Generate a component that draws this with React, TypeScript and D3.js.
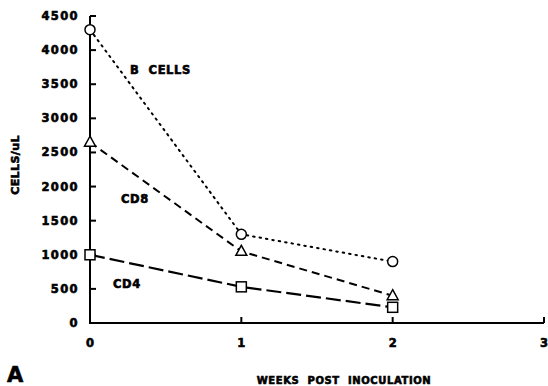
import React from "react";
import * as d3 from "d3";

const weeks = [0, 1, 2];
const bCells = [4300, 1300, 900];
const cd8 = [2650, 1050, 400];
const cd4 = [1000, 530, 230];
const yTicks = [0, 500, 1000, 1500, 2000, 2500, 3000, 3500, 4000, 4500];
const xTicks = [0, 1, 2, 3];

const W = 548;
const H = 386;
const FONT = "'DejaVu Sans', sans-serif";

export default function App() {
  const x = d3.scaleLinear().domain([0, 3]).range([90, 544]);
  const y = d3.scaleLinear().domain([0, 4500]).range([323, 16]);
  const line = d3
    .line<number>()
    .x((_, i) => x(weeks[i]))
    .y((d) => y(d));

  const tri = (cx: number, cy: number) =>
    `M${cx},${cy - 6}L${cx + 5.5},${cy + 4}L${cx - 5.5},${cy + 4}Z`;

  const tickText = {
    fontFamily: FONT,
    fontWeight: 900,
    fontSize: 11.5,
    letterSpacing: 1.4,
    fill: "#000",
    stroke: "#000",
    strokeWidth: 0.6,
  } as const;

  return (
    <svg
      width={W}
      height={H}
      style={{ position: "absolute", left: 0, top: 0, background: "#fff" }}
    >
      {/* axes */}
      <line x1={x(0)} x2={x(0)} y1={y(4500)} y2={y(0) + 1} stroke="#000" strokeWidth={2} />
      <line x1={x(0)} x2={x(3)} y1={y(0)} y2={y(0)} stroke="#000" strokeWidth={2} />
      {yTicks.map((t) => (
        <g key={"y" + t}>
          <line x1={x(0)} x2={x(0) + 6} y1={y(t)} y2={y(t)} stroke="#000" strokeWidth={2} />
          <text x={79} y={y(t) + 4} textAnchor="end" style={tickText}>
            {t}
          </text>
        </g>
      ))}
      {xTicks.map((t) => (
        <g key={"x" + t}>
          {t > 0 && (
            <line x1={x(t)} x2={x(t)} y1={y(0)} y2={y(0) - 6} stroke="#000" strokeWidth={2} />
          )}
          <text x={x(t)} y={347} textAnchor="middle" style={{ ...tickText, letterSpacing: 0 }}>
            {t}
          </text>
        </g>
      ))}

      {/* series lines */}
      <path d={line(bCells) || ""} fill="none" stroke="#000" strokeWidth={2} strokeDasharray="1.5 5" strokeLinecap="round" />
      <path d={line(cd8) || ""} fill="none" stroke="#000" strokeWidth={2} strokeDasharray="8 5" />
      <path d={line(cd4) || ""} fill="none" stroke="#000" strokeWidth={2.2} strokeDasharray="15 5" />

      {/* markers */}
      {bCells.map((v, i) => (
        <circle key={"b" + i} cx={x(weeks[i])} cy={y(v)} r={5} fill="#fff" stroke="#000" strokeWidth={1.5} />
      ))}
      {cd8.map((v, i) => (
        <path key={"c8" + i} d={tri(x(weeks[i]), y(v))} fill="#fff" stroke="#000" strokeWidth={1.5} />
      ))}
      {cd4.map((v, i) => (
        <rect key={"c4" + i} x={x(weeks[i]) - 5} y={y(v) - 5} width={10} height={10} fill="#fff" stroke="#000" strokeWidth={1.5} />
      ))}

      {/* series labels */}
      <text x={130} y={74} style={{ ...tickText, fontSize: 11.5, letterSpacing: 0.6 }}>
        B{"\u00a0\u00a0"}CELLS
      </text>
      <text x={121} y={203} style={{ ...tickText, fontSize: 11.5, letterSpacing: 0.6 }}>
        CD8
      </text>
      <text x={113} y={288} style={{ ...tickText, fontSize: 11.5, letterSpacing: 0.6 }}>
        CD4
      </text>

      {/* axis titles */}
      <text
        transform={`translate(19,165) rotate(-90)`}
        textAnchor="middle"
        style={{ ...tickText, fontSize: 11, letterSpacing: 0.4 }}
      >
        CELLS/uL
      </text>
      <text x={344} y={384} textAnchor="middle" style={{ ...tickText, fontSize: 10, letterSpacing: 0.6 }}>
        WEEKS{"\u00a0\u00a0"}POST{"\u00a0\u00a0"}INOCULATION
      </text>
      <text x={7} y={382} style={{ fontFamily: FONT, fontWeight: 900, fontSize: 21, fill: "#000", stroke: "#000", strokeWidth: 0.6 }}>
        A
      </text>
    </svg>
  );
}
